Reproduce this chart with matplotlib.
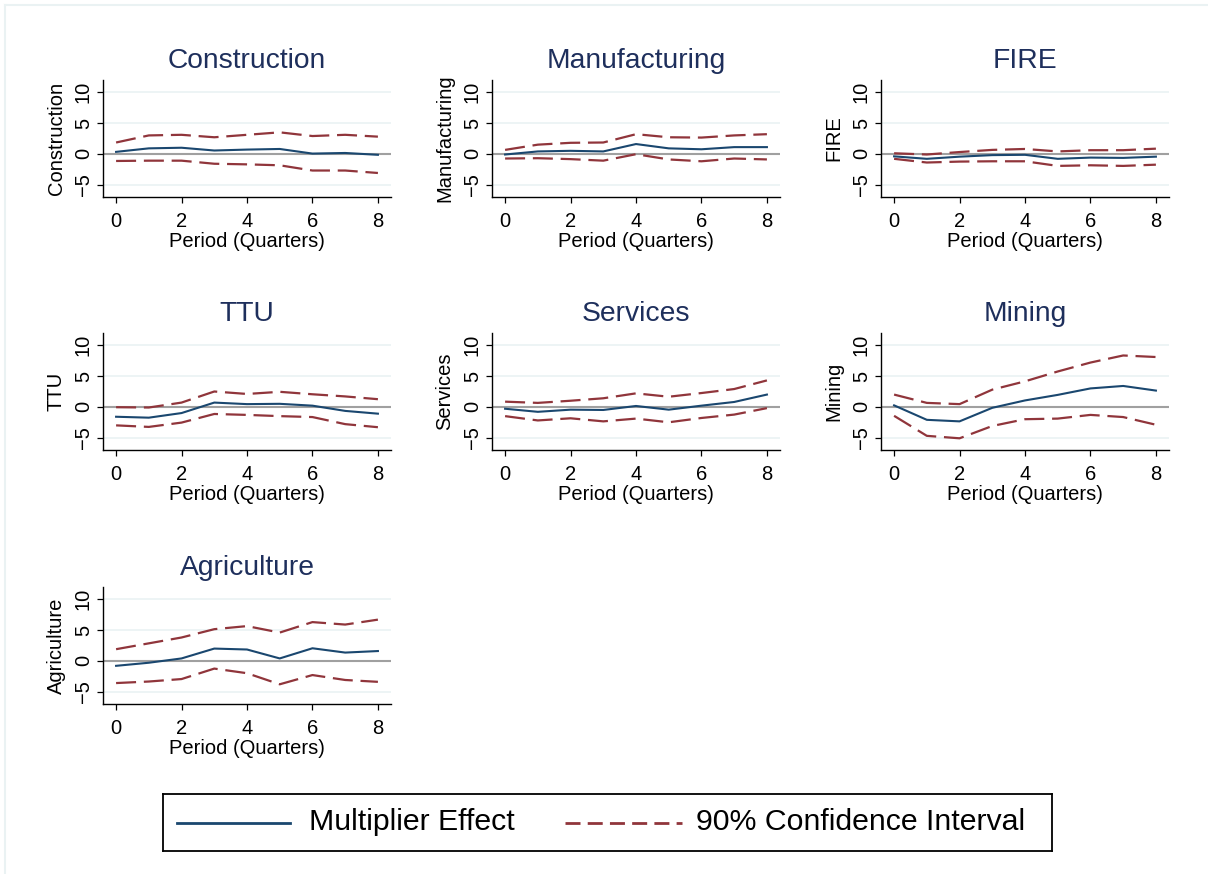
import matplotlib
matplotlib.use("Agg")
import matplotlib.pyplot as plt
from matplotlib.lines import Line2D

plt.rcParams['font.family'] = ['Liberation Sans', 'DejaVu Sans']

periods = [0, 1, 2, 3, 4, 5, 6, 7, 8]
sectors = ["Construction", "Manufacturing", "FIRE", "TTU", "Services", "Mining", "Agriculture"]

construction_effect = [0.33, 0.9, 1.0, 0.55, 0.7, 0.8, 0.05, 0.15, -0.15]
construction_upper = [1.85, 3.0, 3.1, 2.7, 3.1, 3.5, 2.9, 3.1, 2.8]
construction_lower = [-1.15, -1.1, -1.1, -1.6, -1.7, -1.85, -2.7, -2.7, -3.1]

manufacturing_effect = [-0.1, 0.4, 0.5, 0.4, 1.6, 0.9, 0.75, 1.1, 1.1]
manufacturing_upper = [0.65, 1.5, 1.8, 1.85, 3.2, 2.7, 2.65, 3.0, 3.2]
manufacturing_lower = [-0.75, -0.7, -0.85, -1.1, -0.05, -0.9, -1.2, -0.75, -0.9]

fire_effect = [-0.4, -0.8, -0.45, -0.2, -0.15, -0.8, -0.6, -0.65, -0.45]
fire_upper = [0.1, -0.1, 0.3, 0.65, 0.8, 0.4, 0.6, 0.6, 0.85]
fire_lower = [-0.8, -1.4, -1.25, -1.2, -1.2, -1.95, -1.85, -1.95, -1.75]

ttu_effect = [-1.6, -1.75, -1.0, 0.7, 0.45, 0.5, 0.2, -0.65, -1.1]
ttu_upper = [-0.05, -0.1, 0.7, 2.5, 2.1, 2.45, 2.05, 1.7, 1.25]
ttu_lower = [-3.0, -3.25, -2.55, -1.15, -1.3, -1.5, -1.65, -2.8, -3.3]

services_effect = [-0.3, -0.8, -0.45, -0.5, 0.15, -0.45, 0.2, 0.8, 2.0]
services_upper = [0.85, 0.65, 1.0, 1.4, 2.2, 1.65, 2.25, 2.9, 4.3]
services_lower = [-1.5, -2.2, -1.85, -2.35, -1.9, -2.5, -1.8, -1.25, -0.2]

mining_effect = [0.25, -2.1, -2.35, -0.15, 1.05, 1.95, 3.0, 3.4, 2.65]
mining_upper = [2.0, 0.65, 0.45, 2.8, 4.15, 5.75, 7.2, 8.35, 8.1]
mining_lower = [-1.45, -4.7, -5.1, -3.1, -2.0, -1.9, -1.3, -1.65, -2.9]

agriculture_effect = [-0.8, -0.3, 0.4, 2.0, 1.85, 0.4, 2.05, 1.35, 1.6]
agriculture_upper = [1.9, 2.85, 3.8, 5.15, 5.65, 4.6, 6.3, 5.9, 6.7]
agriculture_lower = [-3.6, -3.35, -2.95, -1.25, -2.0, -3.8, -2.3, -3.1, -3.4]

effects = [construction_effect, manufacturing_effect, fire_effect, ttu_effect,
           services_effect, mining_effect, agriculture_effect]
uppers = [construction_upper, manufacturing_upper, fire_upper, ttu_upper,
          services_upper, mining_upper, agriculture_upper]
lowers = [construction_lower, manufacturing_lower, fire_lower, ttu_lower,
          services_lower, mining_lower, agriculture_lower]

y_ticks = [-5, 0, 5, 10]
x_ticks = [0, 2, 4, 6, 8]

NAVY = "#1a476f"
MAROON = "#90353b"
TITLE = "#1e2f5c"
GRID = "#eaf2f3"

W, H = 1208, 874
fig = plt.figure(figsize=(W / 100, H / 100), dpi=100)
fig.patch.set_facecolor("white")

# light frame along top and left edges
fig.add_artist(Line2D([5 / W, 1], [1 - 5 / H, 1 - 5 / H], color=GRID, lw=1.5, transform=fig.transFigure))
fig.add_artist(Line2D([5 / W, 5 / W], [0, 1 - 5 / H], color=GRID, lw=1.5, transform=fig.transFigure))

col_left = [103, 492, 881]
row_top = [80, 333, 587]
ax_w, ax_h = 288, 117


def px_axes(left, top):
    return fig.add_axes([left / W, 1 - (top + ax_h) / H, ax_w / W, ax_h / H])


for i, name in enumerate(sectors):
    r, c = divmod(i, 3)
    ax = px_axes(col_left[c], row_top[r])
    ax.set_xlim(-0.4, 8.4)
    ax.set_ylim(-7, 12)
    for g in [-5, 5, 10]:
        ax.axhline(g, color=GRID, lw=1.2, zorder=0)
    ax.axhline(0, color="#a0a0a0", lw=1.5, zorder=1)
    ax.plot(periods, uppers[i], color=MAROON, lw=1.6, dashes=(9, 3.5), zorder=2)
    ax.plot(periods, lowers[i], color=MAROON, lw=1.6, dashes=(9, 3.5), zorder=2)
    ax.plot(periods, effects[i], color=NAVY, lw=1.5, zorder=3)

    ax.set_xticks(x_ticks)
    ax.set_yticks(y_ticks)
    ax.set_yticklabels([str(v).replace("-", "\u2212") for v in y_ticks], rotation=90, va="center")
    ax.tick_params(axis="both", labelsize=14.5, length=4.3, width=0.9, direction="out", color="black")
    ax.tick_params(axis="x", pad=6.5)
    ax.tick_params(axis="y", pad=3)
    for s in ["top", "right"]:
        ax.spines[s].set_visible(False)
    for s in ["left", "bottom"]:
        ax.spines[s].set_linewidth(1.0)
    ax.set_xlabel("Period (Quarters)", fontsize=14.5, labelpad=1)
    ax.set_ylabel(name, fontsize=14.5, labelpad=6)
    ax.text(0.5, 1.10, name, transform=ax.transAxes, ha="center", va="baseline",
            fontsize=20.3, color=TITLE)

# legend box
leg_l, leg_t, leg_r, leg_b = 163, 794, 1052, 851
lax = fig.add_axes([leg_l / W, 1 - leg_b / H, (leg_r - leg_l) / W, (leg_b - leg_t) / H])
lax.set_xlim(leg_l, leg_r)
lax.set_ylim(leg_b, leg_t)
lax.set_xticks([])
lax.set_yticks([])
for s in lax.spines.values():
    s.set_linewidth(1.3)
    s.set_color("black")
ymid = 822.5
lax.plot([177, 290], [ymid, ymid], color=NAVY, lw=2.0)
lax.plot([565, 682], [ymid, ymid], color=MAROON, lw=2.0, dashes=(5.4, 2.6))
lax.text(309, ymid, "Multiplier Effect", fontsize=21.8, va="center", ha="left")
lax.text(696, ymid, "90% Confidence Interval", fontsize=21.8, va="center", ha="left")

fig.savefig("out.png", dpi=100, facecolor="white")
